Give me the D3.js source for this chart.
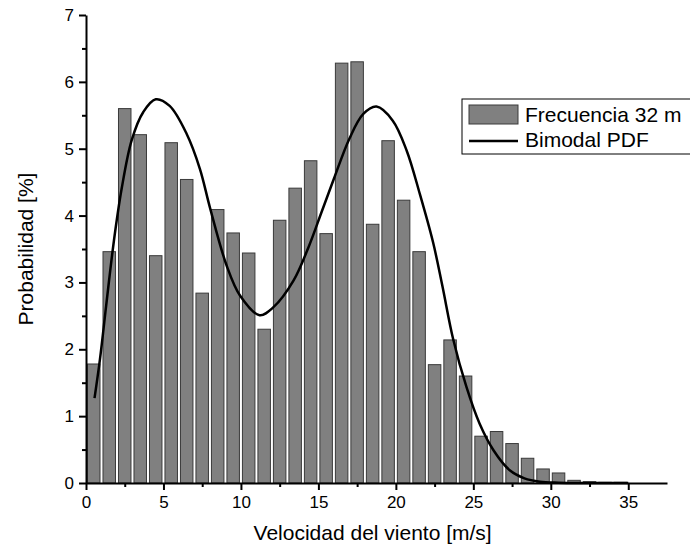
<!DOCTYPE html>
<html>
<head>
<meta charset="utf-8">
<script src="https://cdn.jsdelivr.net/npm/d3@7"></script>
<style>
    body { margin: 0; background: #fff; }
    svg { display: block; font-family: "Liberation Sans", Arial, sans-serif; }
</style>
</head>
<body>
<div id="chartContainer"><svg width="690" height="554"></svg></div>
<script>
// frecuencia por intervalo de 1 m/s (0-1, 1-2, ...)
const binStart = [0, 1, 2, 3, 4, 5, 6, 7, 8, 9, 10, 11, 12, 13, 14, 15, 16, 17,
    18, 19, 20, 21, 22, 23, 24, 25, 26, 27, 28, 29, 30, 31, 32, 33, 34];
const freqValues = [1.78, 3.46, 5.60, 5.21, 3.40, 5.09, 4.54, 2.84, 4.09, 3.74, 3.44, 2.30,
    3.93, 4.41, 4.82, 3.73, 6.28, 6.30, 3.87, 5.12, 4.23, 3.46, 1.77, 2.14, 1.60,
    0.70, 0.77, 0.59, 0.37, 0.21, 0.15, 0.04, 0.02, 0.01, 0.01];

// curva bimodal
const pdfX = [0.55, 0.9, 1.3, 1.8, 2.3, 2.95, 3.7, 4.5, 5.4, 6.5, 7.35, 8.0, 9.08, 9.95,
    11.2, 12.1, 13.4, 14.4, 15.2, 16.0, 17.0, 17.9, 18.75, 19.8, 20.7, 21.55, 22.4,
    23.0, 23.7, 24.55, 25.4, 26.3, 27.35, 28.3, 29.3, 30.5, 32, 35];
const pdfY = [1.27, 1.85, 2.65, 3.62, 4.4, 5.13, 5.55, 5.74, 5.64, 5.22, 4.7, 4.12, 3.25,
    2.8, 2.51, 2.63, 3.03, 3.55, 4.05, 4.55, 5.15, 5.52, 5.63, 5.42, 4.97, 4.32, 3.6,
    2.95, 2.15, 1.44, 0.89, 0.49, 0.19, 0.07, 0.02, 0.005, 0, 0];

const xMajor = [0, 5, 10, 15, 20, 25, 30, 35];
const xMinor = [2.5, 7.5, 12.5, 17.5, 22.5, 27.5, 32.5];
const yMajor = [0, 1, 2, 3, 4, 5, 6, 7];
const yMinor = [0.5, 1.5, 2.5, 3.5, 4.5, 5.5, 6.5];

const legendLabels = ["Frecuencia 32 m", "Bimodal PDF"];

drawChart();

function drawChart() {
    const svg = d3.select("#chartContainer svg");
    svg.selectAll("*").remove();

    const margin = { top: 15, left: 86 };
    const width = 581;
    const height = 468;

    const x = d3.scaleLinear().domain([0, 37.5]).range([0, width]);
    const y = d3.scaleLinear().domain([0, 7]).range([height, 0]);

    const chart = svg.append("g")
        .attr("transform", `translate(${margin.left},${margin.top})`);

    // barras
    chart.selectAll(".bar")
        .data(freqValues)
        .enter()
        .append("rect")
        .attr("class", "bar")
        .attr("x", (d, i) => x(binStart[i]) + 1.5)
        .attr("y", d => y(d))
        .attr("width", (d, i) => x(binStart[i] + 1) - x(binStart[i]) - 3)
        .attr("height", d => height - y(d))
        .attr("fill", "#808080")
        .attr("stroke", "#3a3a3a")
        .attr("stroke-width", 1);

    // curva
    const line = d3.line()
        .x((d, i) => x(pdfX[i]))
        .y(d => y(d))
        .curve(d3.curveCatmullRom.alpha(0.5));

    chart.append("path")
        .datum(pdfY)
        .attr("fill", "none")
        .attr("stroke", "#000")
        .attr("stroke-width", 2.5)
        .attr("d", line);

    // ejes
    const xAxis = chart.append("g")
        .attr("transform", `translate(0,${height})`)
        .call(d3.axisBottom(x).tickValues(xMajor).tickSize(7).tickSizeOuter(0).tickPadding(6));
    chart.append("g")
        .attr("transform", `translate(0,${height})`)
        .call(d3.axisBottom(x).tickValues(xMinor).tickSize(4).tickFormat("").tickSizeOuter(0))
        .select(".domain").remove();

    const yAxis = chart.append("g")
        .call(d3.axisLeft(y).tickValues(yMajor).tickFormat(d3.format("d"))
            .tickSize(7).tickSizeOuter(0).tickPadding(5));
    chart.append("g")
        .call(d3.axisLeft(y).tickValues(yMinor).tickSize(4).tickFormat("").tickSizeOuter(0))
        .select(".domain").remove();

    [xAxis, yAxis].forEach(a => {
        a.select(".domain").attr("stroke-width", 2);
        a.selectAll("text").attr("font-size", "17px").attr("fill", "#000")
            .attr("font-family", "Liberation Sans, Arial, sans-serif");
    });
    chart.selectAll(".tick line").attr("stroke-width", 2);

    // titulos
    svg.append("text")
        .attr("x", margin.left + x(18.5))
        .attr("y", 540)
        .attr("text-anchor", "middle")
        .attr("font-size", "21px")
        .text("Velocidad del viento [m/s]");

    svg.append("text")
        .attr("transform", `translate(33,${margin.top + y(3.5)}) rotate(-90)`)
        .attr("text-anchor", "middle")
        .attr("font-size", "21px")
        .text("Probabilidad [%]");

    // leyenda
    const legend = svg.append("g").attr("transform", "translate(462,99)");
    legend.append("rect")
        .attr("width", 240)
        .attr("height", 55)
        .attr("fill", "#fff")
        .attr("stroke", "#000")
        .attr("stroke-width", 1);
    legend.append("rect")
        .attr("x", 7).attr("y", 6)
        .attr("width", 49).attr("height", 19)
        .attr("fill", "#808080")
        .attr("stroke", "#3a3a3a");
    legend.append("line")
        .attr("x1", 7).attr("x2", 56)
        .attr("y1", 42).attr("y2", 42)
        .attr("stroke", "#000")
        .attr("stroke-width", 2.5);
    legend.selectAll(".lbl")
        .data(legendLabels)
        .enter()
        .append("text")
        .attr("class", "lbl")
        .attr("x", 63)
        .attr("y", (d, i) => 23 + i * 25)
        .attr("font-size", "21px")
        .text(d => d);
}
</script>
</body>
</html>
